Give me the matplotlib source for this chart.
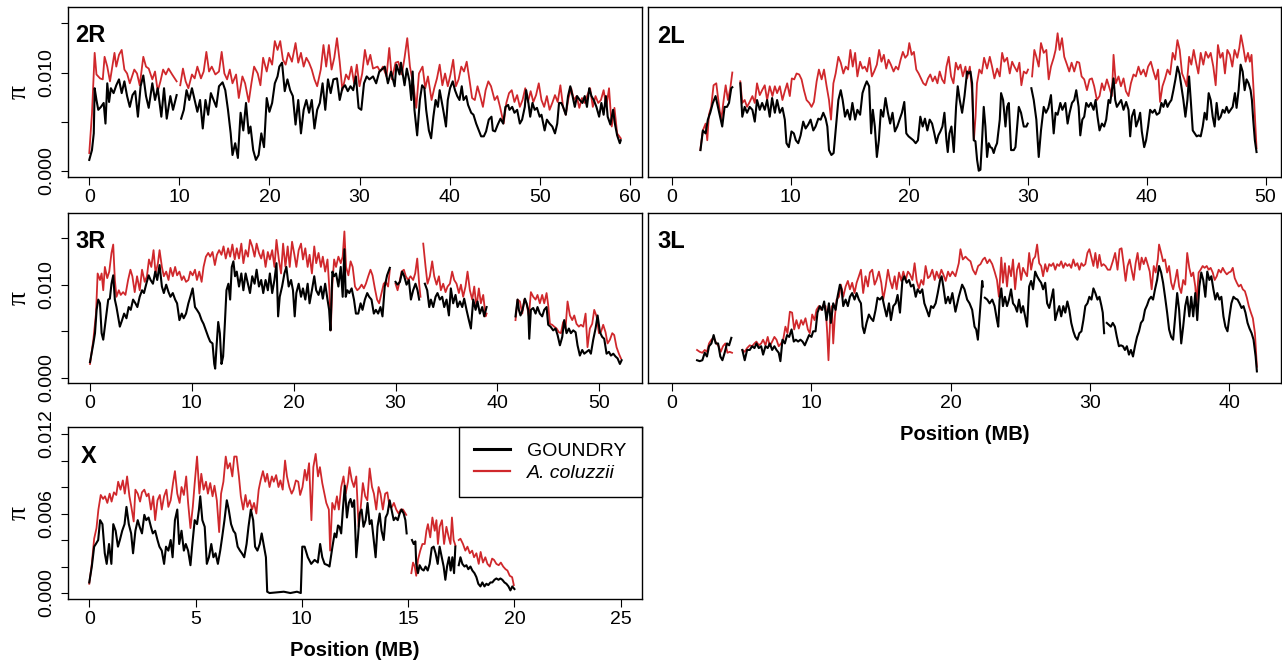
import numpy as np
import matplotlib
matplotlib.use("Agg")
import matplotlib.pyplot as plt
from matplotlib.lines import Line2D

nan = np.nan

# nucleotide diversity, values in units of 1e-3, (position MB, pi) pairs
# 2R ==========================================================================
red_2R = [(0,1.8),(0.3,5.8),(0.6,12.0),(0.8,9.8),(1.2,9.4),(1.5,9.3),(1.7,11.6),(2.0,10.6),(2.3,9.1),(2.6,10.8),(2.8,12.0),(3.0,10.6),(3.3,11.8),(3.6,12.3),(3.9,10.3),(4.2,9.9),(4.5,8.9),(5.0,10.3),(5.3,9.9),(5.6,8.7),(6.0,11.6),(6.3,10.6),(6.6,10.4),(7.0,9.3),(7.3,10.1),(7.6,8.1),(7.9,9.1),(8.2,10.3),(8.5,9.8),(8.8,10.4),(9.2,9.8),(9.7,9.1),(10.0,nan),
          (10.1,8.7),(10.4,10.4),(10.7,9.1),(11.0,8.4),(11.4,9.8),(11.7,9.4),(12.0,10.6),(12.4,9.4),(12.7,10.1),(13.0,12.1),(13.3,10.1),(13.6,10.6),(14.0,9.8),(14.4,10.1),(14.7,12.1),(15.0,9.9),(15.3,9.3),(15.6,10.3),(15.9,8.9),(16.3,9.8),(16.6,7.4),(17.0,9.6),(17.3,8.9),(17.7,7.0),(18.0,8.9),(18.3,10.6),(18.7,9.9),(19.0,8.7),(19.3,11.5),(19.7,10.1),
          (20.0,11.5),(20.3,10.8),(20.6,13.2),(20.9,12.3),(21.2,13.2),(21.5,11.3),(21.8,10.8),(22.1,12.0),(22.5,11.1),(22.9,13.0),(23.2,11.0),(23.5,12.0),(23.8,10.6),(24.1,11.5),(24.4,11.0),(24.7,10.3),(25.0,9.3),(25.3,8.6),(25.7,10.3),(26.0,12.8),(26.3,10.6),(26.6,12.8),(26.9,10.3),(27.2,11.5),(27.5,13.5),(27.8,11.1),(28.1,8.2),(28.5,9.8),(28.8,9.3),(29.1,10.6),(29.4,8.9),(29.7,10.8),
          (30.0,8.6),(30.3,9.9),(30.6,12.3),(30.9,10.8),(31.2,11.8),(31.5,10.4),(32.0,10.6),(32.3,10.1),(32.6,10.6),(33.0,9.6),(33.3,12.5),(33.6,9.3),(34.0,11.0),(34.3,11.1),(34.7,9.8),(35.0,11.5),(35.3,13.5),(35.6,10.6),(36.0,8.6),(36.3,6.4),(36.6,9.9),(37.0,10.6),(37.3,8.4),(37.6,9.6),(38.0,7.2),(38.3,8.4),(38.6,9.4),(38.9,10.8),(39.2,8.7),(39.5,9.9),(39.8,8.6),
          (40.1,9.8),(40.4,11.3),(40.7,8.6),(41.0,9.3),(41.3,10.6),(41.6,10.1),(41.9,11.1),(42.2,9.3),(42.5,7.4),(42.8,7.2),(43.1,8.6),(43.4,7.6),(43.7,6.5),(44.0,8.2),(44.3,9.1),(44.6,8.6),(45.0,7.2),(45.3,7.6),(45.6,6.5),(46.0,4.8),(46.3,6.9),(46.6,7.9),(46.9,8.2),(47.2,7.0),(47.5,7.7),(47.8,6.5),(48.1,7.2),(48.4,8.4),(48.7,7.0),(49.0,8.1),(49.3,7.0),(49.6,7.7),(49.9,8.9),
          (50.2,7.2),(50.5,6.5),(50.8,7.6),(51.1,6.2),(51.4,6.9),(51.7,7.7),(52.0,7.0),(52.3,8.7),(52.6,6.5),(52.9,5.7),(53.2,7.4),(53.5,8.4),(53.8,7.2),(54.1,7.6),(54.4,6.4),(54.7,7.4),(55.0,6.9),(55.3,7.7),(55.6,8.4),(55.9,6.5),(56.2,7.6),(56.5,6.9),(56.8,7.2),(57.1,8.2),(57.4,6.5),(57.7,8.4),(58.0,4.5),(58.3,6.4),(58.6,3.8),(59.0,3.3)]

black_2R = [(0,1.1),(0.3,2.1),(0.5,3.8),(0.6,8.4),(0.8,7.2),(1.0,6.2),(1.3,6.5),(1.6,6.9),(1.8,4.8),(2.0,8.9),(2.2,7.0),(2.4,8.4),(2.7,7.9),(3.0,8.7),(3.3,9.3),(3.6,7.9),(3.9,9.1),(4.2,7.6),(4.5,6.5),(4.8,7.7),(5.1,8.1),(5.4,5.5),(5.7,8.6),(6.0,9.7),(6.3,7.6),(6.6,6.4),(7.0,8.9),(7.3,7.2),(7.6,8.4),(8.0,5.5),(8.3,8.4),(8.6,5.3),(9.0,7.6),(9.3,6.2),(9.7,7.7),(10.0,nan),
            (10.2,5.3),(10.5,6.2),(10.8,8.2),(11.1,7.2),(11.4,8.4),(11.7,7.2),(12.0,6.0),(12.3,7.2),(12.6,4.3),(12.9,7.2),(13.2,5.7),(13.5,7.9),(13.8,7.2),(14.1,6.5),(14.4,8.6),(14.8,9.0),(15.1,8.2),(15.4,6.2),(15.7,3.8),(15.9,1.6),(16.2,2.8),(16.5,1.3),(16.8,5.9),(17.1,4.1),(17.4,6.9),(17.7,3.8),(17.9,4.5),(18.2,2.1),(18.5,1.1),(18.8,1.6),(19.1,3.8),(19.4,2.4),(19.7,7.4),
            (20.0,6.0),(20.3,6.9),(20.6,8.9),(20.9,9.6),(21.1,10.6),(21.4,11.0),(21.7,8.1),(22.0,9.3),(22.3,8.2),(22.6,7.6),(22.9,4.7),(23.2,7.2),(23.5,3.8),(23.8,6.2),(24.1,7.2),(24.4,5.9),(24.7,7.2),(25.0,4.3),(25.3,6.2),(25.6,6.9),(25.9,8.9),(26.2,6.2),(26.5,9.3),(26.8,7.9),(27.1,9.3),(27.5,9.4),(27.8,7.2),(28.1,8.4),(28.4,8.7),(28.7,8.1),(29.0,8.6),(29.3,8.2),(29.6,9.6),(29.9,6.4),
            (30.2,6.2),(30.5,8.9),(30.8,9.6),(31.1,9.3),(31.5,9.6),(31.85,8.9),(32.2,10.1),(32.6,10.4),(32.8,10.6),(33.15,8.9),(33.5,10.1),(33.9,8.6),(34.1,10.8),(34.45,9.8),(34.6,11.0),(35.0,8.7),(35.25,10.4),(35.55,9.1),(35.75,7.2),(35.9,10.1),(36.1,6.2),(36.4,3.6),(36.7,7.2),(36.95,8.7),(37.2,8.4),(37.4,6.2),(37.7,4.1),(37.95,3.3),(38.2,5.5),(38.45,7.2),(38.7,6.5),(38.9,8.2),(39.1,7.2),(39.35,5.9),(39.6,4.5),(39.8,7.2),
            (40.05,8.4),(40.35,9.1),(40.6,8.2),(40.85,7.6),(41.1,7.2),(41.35,8.6),(41.55,7.2),(41.85,7.6),(42.05,6.7),(42.4,5.9),(42.65,5.7),(42.95,4.8),(43.25,4.1),(43.5,3.5),(43.8,3.5),(44.05,4.0),(44.35,5.2),(44.65,5.5),(44.8,4.1),(45.05,4.0),(45.35,4.7),(45.65,5.3),(45.95,4.8),(46.2,6.5),(46.5,6.7),(46.65,6.2),(46.95,6.5),(47.2,5.9),(47.5,6.2),(47.8,4.8),(48.05,5.2),(48.35,6.5),(48.5,8.2),(48.75,6.9),(48.95,5.5),(49.2,6.9),(49.45,6.2),(49.7,6.4),
            (50.0,5.5),(50.2,5.7),(50.55,4.1),(50.8,5.2),(51.1,4.8),(51.4,4.5),(51.7,3.8),(51.95,4.8),(52.15,6.9),(52.4,6.9),(52.6,6.5),(52.9,5.7),(53.15,7.6),(53.4,8.6),(53.65,7.6),(53.9,6.5),(54.15,7.6),(54.45,7.2),(54.75,6.9),(55.0,7.6),(55.25,6.5),(55.5,8.4),(55.75,7.6),(56.0,7.2),(56.3,6.5),(56.6,5.5),(56.85,6.9),(57.1,5.7),(57.35,7.6),(57.55,5.5),(57.85,4.7),(58.15,6.2),(58.35,4.8),(58.6,3.6),(58.9,2.8),(59.0,3.1)]

# 2L ==========================================================================
red_2L = [(2.4,2.1),(2.62,4.1),(2.85,4.8),(2.99,3.1),(3.13,5.7),(3.32,6.5),(3.52,8.7),(3.75,8.9),(3.89,7.5),(4.03,6.2),(4.17,5.2),(4.37,7.2),(4.54,8.7),(4.73,7.2),(4.93,8.4),(5.1,10.0),(5.4,nan),
          (5.77,9.1),(5.94,6.9),(6.14,7.2),(6.34,6.5),(6.56,7.0),(6.79,7.6),(6.99,6.9),(7.18,8.9),(7.41,7.7),(7.61,8.2),(7.83,8.7),(8.03,7.2),(8.25,8.6),(8.48,7.6),(8.68,8.6),(8.87,7.9),(9.1,8.6),(9.32,7.2),(9.52,8.1),(9.72,8.9),(9.94,7.6),
          (10.11,9.4),(10.31,9.3),(10.51,9.9),(10.73,9.8),(10.93,9.3),(11.13,8.2),(11.35,7.2),(11.58,6.9),(11.77,6.5),(11.97,7.0),(12.2,9.1),(12.39,10.3),(12.62,9.3),(12.82,10.3),(13.04,8.6),(13.24,7.2),(13.41,5.2),(13.61,8.9),(13.8,9.9),(14.03,11.6),(14.23,11.0),(14.45,9.9),(14.65,10.6),(14.85,10.3),
          (15.04,12.3),(15.24,10.6),(15.44,12.0),(15.63,9.6),(15.86,11.1),(16.06,10.4),(16.25,10.6),(16.45,10.1),(16.65,11.5),(16.85,9.6),(17.04,10.1),(17.27,10.8),(17.46,12.3),(17.66,11.1),(17.86,11.8),(18.06,10.4),(18.25,11.3),(18.45,10.8),(18.68,10.1),(18.87,10.6),(19.07,10.3),(19.27,11.3),(19.46,12.1),(19.66,11.5),(19.86,11.8),
          (20.0,13.0),(20.2,11.8),(20.39,12.1),(20.59,10.3),(20.79,9.9),(20.99,9.4),(21.18,8.9),(21.38,8.7),(21.58,9.4),(21.77,9.8),(21.97,9.1),(22.17,9.6),(22.37,8.9),(22.56,10.1),(22.76,9.3),(22.96,8.9),(23.13,10.6),(23.32,11.6),(23.52,9.6),(23.72,8.9),(23.92,11.0),(24.11,10.3),(24.31,10.8),(24.51,9.6),(24.73,10.6),
          (24.87,9.4),(25.1,10.6),(25.3,7.9),(25.44,3.1),(25.58,5.5),(25.7,8.9),(25.9,10.3),(26.1,9.9),(26.3,11.5),(26.55,10.4),(26.78,11.6),(26.97,10.6),(27.17,9.4),(27.4,10.4),(27.62,9.6),(27.82,12.0),(28.0,11.1),(28.24,11.5),(28.46,9.9),(28.66,11.1),(28.85,10.6),(29.08,10.1),(29.27,11.0),(29.44,8.7),(29.64,10.1),(29.86,9.9),(30.0,10.3),(30.15,nan),
          (30.34,9.6),(30.53,12.3),(30.7,11.6),(30.9,10.6),(31.09,13.0),(31.32,12.0),(31.54,12.3),(31.74,9.3),(31.93,10.6),(32.16,11.5),(32.32,12.3),(32.49,14.0),(32.66,12.3),(32.86,13.5),(33.05,11.6),(33.28,10.8),(33.47,10.1),(33.67,11.0),(33.89,10.1),(34.12,11.1),(34.31,11.0),(34.51,9.6),(34.73,9.3),(34.96,8.2),
          (35.18,9.3),(35.38,9.4),(35.57,8.6),(35.8,7.2),(36.02,7.6),(36.22,8.9),(36.41,8.2),(36.64,9.3),(36.86,8.4),(37.06,7.6),(37.2,11.8),(37.39,8.9),(37.62,9.6),(37.82,8.6),(38.04,9.4),(38.24,8.1),(38.46,7.6),(38.66,8.9),(38.88,9.8),(39.08,9.6),(39.3,10.6),(39.5,9.8),(39.72,10.3),(39.92,9.6),
          (40.11,10.6),(40.34,11.1),(40.56,10.1),(40.76,9.3),(40.95,10.3),(41.12,7.0),(41.32,8.6),(41.54,9.4),(41.74,10.3),(41.96,9.8),(42.18,12.0),(42.38,11.3),(42.58,13.3),(42.77,12.3),(42.97,9.9),(43.17,9.3),(43.36,8.6),(43.56,11.6),(43.75,10.8),(43.95,12.3),(44.15,11.0),(44.34,9.9),(44.54,12.0),(44.76,10.8),(44.96,12.1),
          (45.18,11.5),(45.38,12.0),(45.6,10.6),(45.8,8.7),(45.99,12.8),(46.19,11.5),(46.39,12.0),(46.58,9.9),(46.78,12.3),(47.0,11.8),(47.2,10.6),(47.39,12.3),(47.62,11.5),(47.79,12.5),(47.93,13.8),(48.12,12.6),(48.32,11.1),(48.52,12.0),(48.68,11.1),(48.82,11.8),(48.96,8.9),(49.1,5.5),(49.24,2.3)]

black_2L = [(2.42,2.1),(2.62,4.1),(2.85,3.8),(3.04,5.2),(3.24,5.9),(3.46,6.9),(3.69,7.6),(3.89,6.5),(4.08,5.5),(4.25,4.5),(4.45,6.5),(4.65,6.5),(4.82,6.9),(5.01,8.4),(5.1,8.5),(5.4,nan),
            (5.77,8.9),(5.94,5.5),(6.14,6.5),(6.34,5.9),(6.56,6.5),(6.79,6.2),(6.99,5.0),(7.18,7.2),(7.41,6.2),(7.61,6.9),(7.83,6.2),(8.03,7.2),(8.25,5.5),(8.45,7.4),(8.68,5.9),(8.87,7.2),(9.1,5.9),(9.32,6.4),(9.52,5.2),(9.66,2.8),(9.86,2.4),
            (10.08,4.0),(10.28,3.8),(10.45,3.1),(10.65,2.8),(10.85,3.6),(11.07,5.0),(11.27,4.3),(11.49,4.7),(11.69,5.2),(11.92,4.1),(12.11,4.5),(12.34,5.3),(12.54,5.2),(12.76,5.9),(12.96,5.3),(13.1,4.5),(13.24,2.1),(13.44,1.6),(13.63,1.8),(13.83,4.5),(14.03,7.2),(14.23,8.2),(14.39,7.2),(14.59,5.5),(14.79,6.2),
            (15.01,5.2),(15.21,6.9),(15.44,5.2),(15.63,6.2),(15.86,5.7),(16.06,7.9),(16.25,8.6),(16.42,9.1),(16.62,8.6),(16.79,3.8),(16.93,6.2),(17.1,4.5),(17.27,1.4),(17.44,3.1),(17.61,6.2),(17.8,5.5),(18.0,7.4),(18.2,5.9),(18.39,4.8),(18.59,5.9),(18.79,4.0),(18.99,4.5),(19.18,5.2),(19.38,5.9),(19.58,7.0),(19.75,3.8),(19.94,3.5),
            (20.14,3.3),(20.34,3.1),(20.54,2.8),(20.73,3.1),(20.93,5.5),(21.13,4.5),(21.32,5.3),(21.52,4.1),(21.72,5.2),(21.92,4.8),(22.11,3.8),(22.28,2.8),(22.45,3.6),(22.62,4.0),(22.79,4.5),(22.96,5.9),(23.13,3.1),(23.24,1.9),(23.38,3.8),(23.55,4.5),(23.75,1.9),(23.94,6.5),(24.08,8.6),
            (24.25,7.2),(24.45,5.9),(24.65,7.6),(24.87,10.1),(25.01,9.9),(25.15,10.1),(25.29,8.9),(25.43,3.1),(25.57,3.0),(25.71,1.1),(25.85,0.0),(25.99,0.1),(26.13,3.1),(26.27,6.5),(26.41,4.5),(26.55,1.4),(26.69,2.8),(26.83,2.4),(26.97,2.3),(27.11,1.8),(27.25,2.4),(27.39,2.8),(27.62,5.2),(27.73,7.9),(27.9,7.2),
            (28.1,4.5),(28.24,6.5),(28.38,6.9),(28.57,2.1),(28.8,2.1),(28.94,2.4),(29.22,6.5),(29.41,5.9),(29.64,4.5),(29.86,4.5),(29.97,4.8),(30.1,nan),
            (30.28,8.4),(30.48,7.2),(30.7,5.2),(30.9,1.4),(31.09,4.1),(31.32,6.5),(31.51,5.9),(31.71,6.4),(31.93,7.7),(32.16,3.8),(32.32,5.9),(32.49,5.7),(32.72,6.9),(32.89,6.2),(33.14,6.9),(33.33,4.8),(33.5,5.9),(33.7,6.9),(33.89,7.2),(34.06,8.2),(34.26,6.5),(34.4,3.6),(34.57,5.2),(34.73,5.5),(34.9,6.9),
            (35.1,6.5),(35.29,6.9),(35.52,6.2),(35.69,7.2),(35.85,5.5),(36.02,4.1),(36.22,4.8),(36.41,4.5),(36.58,5.2),(36.78,7.2),(36.92,6.9),(37.06,8.2),(37.2,9.4),(37.34,7.2),(37.48,6.5),(37.68,6.9),(37.84,7.2),(38.04,6.2),(38.26,7.0),(38.46,6.2),(38.6,3.5),(38.74,5.5),(38.94,6.2),(39.1,4.5),(39.3,5.2),(39.44,5.9),(39.58,4.0),(39.78,2.4),(39.94,3.1),
            (40.11,4.5),(40.28,6.2),(40.48,5.9),(40.67,6.2),(40.84,5.7),(41.06,5.9),(41.23,6.9),(41.4,6.5),(41.57,7.2),(41.74,6.5),(41.9,6.9),(42.07,7.2),(42.24,8.2),(42.41,9.3),(42.58,10.6),(42.75,9.9),(42.91,8.6),(43.08,7.2),(43.25,5.5),(43.42,7.2),(43.56,9.6),(43.7,7.2),(43.87,4.1),(44.03,3.8),(44.2,3.5),(44.37,3.6),(44.54,3.5),(44.71,4.5),(44.87,5.9),
            (45.04,5.2),(45.21,7.9),(45.38,7.2),(45.55,5.5),(45.71,4.5),(45.88,6.9),(46.05,5.2),(46.22,5.5),(46.39,6.2),(46.55,5.9),(46.72,6.5),(46.89,5.9),(47.06,6.2),(47.23,6.5),(47.42,7.9),(47.56,6.4),(47.73,8.2),(47.9,10.8),(48.07,10.1),(48.24,8.2),(48.4,9.3),(48.57,8.9),(48.74,8.2),(48.85,7.2),(48.96,5.2),(49.1,3.1),(49.24,1.9)]

# 3R ==========================================================================
red_3R = [(0,1.5),(0.33,4.1),(0.59,6.9),(0.75,11.2),(0.98,10.5),(1.14,11.2),(1.3,9.4),(1.46,11.9),(1.69,10.7),(1.89,11.4),(2.11,13.4),(2.28,14.3),(2.44,10.5),(2.6,8.7),(2.83,9.4),(3.02,8.9),(3.25,9.2),(3.48,8.9),(3.74,10.5),(3.97,11.6),(4.16,10.9),(4.39,9.2),(4.62,10.9),(4.88,9.4),
          (5.11,11.6),(5.37,10.3),(5.59,10.9),(5.79,12.7),(6.02,11.9),(6.24,13.7),(6.44,11.2),(6.67,12.3),(6.83,13.7),(7.06,11.9),(7.25,10.9),(7.48,11.4),(7.71,10.5),(7.9,11.8),(8.13,10.9),(8.36,11.9),(8.55,11.0),(8.78,11.4),(9.01,10.5),(9.2,10.9),(9.43,10.3),(9.66,10.5),(9.85,11.4),
          (10.08,11.0),(10.31,11.6),(10.5,10.5),(10.73,11.4),(10.96,10.3),(11.15,11.9),(11.38,13.0),(11.61,13.4),(11.8,13.0),(12.03,13.5),(12.26,12.1),(12.46,13.2),(12.68,13.7),(12.91,13.2),(13.11,14.1),(13.33,12.8),(13.56,13.9),(13.76,13.0),(13.98,14.3),(14.21,12.7),(14.41,13.9),(14.63,12.8),(14.86,14.4),
          (15.06,12.3),(15.28,13.7),(15.51,13.0),(15.71,14.8),(15.93,14.1),(16.16,13.0),(16.36,14.4),(16.59,13.4),(16.81,12.8),(17.01,13.7),(17.24,11.9),(17.46,13.5),(17.66,12.7),(17.89,13.7),(18.11,11.9),(18.31,14.8),(18.54,12.7),(18.76,11.2),(18.96,14.4),(19.19,11.9),(19.41,14.1),(19.61,11.9),(19.84,14.6),
          (20.07,13.2),(20.26,11.9),(20.49,13.7),(20.72,14.4),(20.91,12.7),(21.14,13.9),(21.37,11.9),(21.56,13.2),(21.79,11.2),(22.02,14.1),(22.21,12.3),(22.44,13.4),(22.67,11.9),(22.86,13.0),(23.09,11.4),(23.32,12.7),(23.51,9.4),(23.64,5.1),(23.8,10.1),(23.97,12.7),(24.16,11.9),(24.39,13.0),(24.62,12.3),(24.81,13.0),
          (24.98,15.7),(25.14,11.9),(25.37,11.0),(25.59,12.5),(25.79,11.9),(26.02,9.8),(26.24,9.4),(26.44,9.6),(26.67,10.0),(26.89,9.6),(27.09,10.1),(27.32,10.9),(27.54,11.6),(27.74,11.0),(27.97,9.6),(28.19,8.4),(28.39,8.0),(28.62,9.1),(28.84,10.1),(29.04,10.3),(29.27,9.8),(29.44,11.6),(29.7,nan),
          (30.0,10.1),(30.2,9.4),(30.43,10.5),(30.59,11.4),(30.82,11.6),(31.01,10.9),(31.24,10.5),(31.47,10.9),(31.73,10.5),(31.93,11.2),(32.13,12.8),(32.32,10.1),(32.45,8.7),(32.6,nan),
          (32.72,14.4),(32.95,11.9),(33.14,10.1),(33.37,10.9),(33.6,12.5),(33.8,10.9),(34.03,10.0),(34.26,10.9),(34.45,9.4),(34.68,10.1),(34.91,9.2),(35.11,9.8),(35.34,10.1),(35.56,11.4),(35.76,10.5),(35.99,10.1),(36.22,9.1),(36.42,10.0),(36.64,8.7),(36.87,9.8),(37.07,11.4),(37.3,9.4),(37.53,8.4),(37.73,9.8),(37.95,7.6),(38.18,9.6),(38.38,8.0),(38.61,8.9),(38.84,6.6),(38.94,6.9),(40.5,nan),
          (41.78,6.2),(41.98,8.4),(42.21,8.2),(42.44,6.9),(42.64,8.4),(42.86,8.0),(43.09,6.6),(43.29,9.2),(43.52,8.7),(43.75,8.4),(43.94,8.9),(44.17,8.0),(44.4,8.9),(44.6,8.0),(44.83,9.1),(44.99,7.8),(45.16,5.8),(45.38,5.7),(45.58,5.5),(45.81,5.3),(46.04,4.9),(46.24,4.8),(46.46,6.0),(46.69,5.3),(46.89,8.2),
          (47.12,6.7),(47.35,6.2),(47.55,6.7),(47.77,5.8),(48.0,5.5),(48.2,5.7),(48.43,5.5),(48.66,6.9),(48.85,3.3),(49.08,5.3),(49.31,5.8),(49.51,7.3),(49.74,6.6),(49.97,4.8),(50.16,4.9),(50.39,5.7),(50.62,4.9),(50.82,3.7),(51.05,4.1),(51.28,4.8),(51.47,4.6),(51.7,3.3),(51.93,2.6),(52.13,2.1)]

black_3R = [(0,1.7),(0.33,3.7),(0.49,4.8),(0.65,7.3),(0.81,8.4),(0.98,8.0),(1.14,4.8),(1.3,4.1),(1.46,5.5),(1.63,6.9),(1.79,8.4),(1.95,8.5),(2.11,10.1),(2.28,11.0),(2.44,8.4),(2.6,7.6),(2.76,6.6),(2.93,5.5),(3.15,6.2),(3.35,6.9),(3.58,6.4),(3.8,7.6),(4.0,7.3),(4.23,8.4),(4.46,8.0),(4.65,7.6),(4.88,8.7),
            (5.11,9.4),(5.3,9.1),(5.53,10.1),(5.76,11.0),(5.95,10.5),(6.18,10.1),(6.41,11.4),(6.6,10.5),(6.83,12.1),(7.06,9.8),(7.25,9.1),(7.48,10.0),(7.71,9.2),(7.9,8.7),(8.13,9.1),(8.36,8.4),(8.55,8.0),(8.78,6.2),(9.01,6.9),(9.2,6.4),(9.43,6.9),(9.66,8.0),(9.85,8.7),
            (10.08,9.6),(10.31,7.6),(10.5,7.3),(10.73,6.9),(10.96,6.2),(11.15,5.8),(11.38,5.1),(11.61,4.4),(11.8,3.9),(12.03,3.7),(12.2,1.5),(12.29,1.0),(12.42,3.3),(12.59,6.0),(12.75,4.8),(12.91,1.5),(13.07,2.3),(13.24,5.8),(13.4,9.4),(13.59,10.1),(13.76,8.4),(13.92,11.9),(14.08,12.5),(14.24,10.9),(14.41,11.4),(14.63,9.8),(14.86,11.2),
            (15.06,9.4),(15.28,11.2),(15.51,10.1),(15.71,9.1),(15.93,10.9),(16.16,10.1),(16.36,11.6),(16.59,9.8),(16.81,10.5),(17.01,9.1),(17.24,10.5),(17.46,9.4),(17.66,11.2),(17.89,9.1),(18.11,10.5),(18.31,12.3),(18.47,6.6),(18.63,8.7),(18.86,9.8),(19.09,11.2),(19.28,11.9),(19.51,9.8),(19.74,10.5),(19.93,9.4),
            (20.1,6.6),(20.26,9.1),(20.49,10.1),(20.72,8.7),(20.91,9.6),(21.14,8.4),(21.37,10.1),(21.56,8.0),(21.79,9.4),(22.02,10.9),(22.21,9.4),(22.44,8.9),(22.67,9.8),(22.86,8.5),(23.09,10.1),(23.32,8.4),(23.48,7.3),(23.61,5.1),(23.8,11.4),(23.97,10.9),(24.16,11.2),(24.39,9.8),(24.62,11.9),(24.81,8.7),
            (24.98,13.8),(25.11,8.7),(25.27,9.4),(25.46,9.1),(25.69,9.6),(25.92,8.4),(26.11,6.9),(26.34,6.9),(26.57,8.0),(26.76,7.3),(26.99,8.4),(27.22,9.1),(27.41,8.7),(27.64,8.4),(27.87,6.9),(28.07,7.3),(28.29,6.9),(28.52,7.6),(28.72,6.6),(28.94,9.8),(29.17,11.0),(29.44,11.8),(29.7,nan),
            (30.0,10.3),(30.2,10.0),(30.43,10.3),(30.65,11.4),(30.85,10.9),(31.08,10.0),(31.31,10.5),(31.51,8.4),(31.73,9.4),(31.96,10.1),(32.16,9.4),(32.32,8.4),(32.6,nan),
            (32.88,10.1),(33.11,9.4),(33.31,7.6),(33.47,8.4),(33.7,7.6),(33.93,8.7),(34.12,9.1),(34.35,8.4),(34.58,8.7),(34.78,7.6),(35.01,8.4),(35.24,6.7),(35.43,9.6),(35.66,8.0),(35.89,8.9),(36.09,7.6),(36.32,8.2),(36.55,7.6),(36.74,8.5),(36.97,7.3),(37.2,6.2),(37.4,5.3),(37.63,8.4),(37.86,7.3),(38.05,8.2),(38.28,6.9),(38.51,7.6),(38.71,6.6),(38.94,7.6),(40.5,nan),
            (41.78,6.6),(41.98,8.4),(42.11,7.3),(42.27,6.7),(42.47,7.3),(42.7,8.5),(42.86,8.0),(43.03,7.3),(43.13,4.2),(43.29,7.3),(43.52,7.5),(43.75,6.9),(43.94,7.6),(44.17,6.9),(44.4,6.6),(44.6,7.3),(44.83,7.6),(44.99,5.7),(45.22,5.5),(45.48,5.1),(45.71,5.3),(45.91,4.6),(46.14,3.5),(46.37,4.4),(46.56,6.2),(46.79,4.8),
            (47.02,5.3),(47.22,4.8),(47.45,5.1),(47.68,4.9),(47.87,3.5),(48.1,2.4),(48.33,3.0),(48.53,2.6),(48.76,2.8),(48.99,3.0),(49.18,2.6),(49.41,4.1),(49.64,5.3),(49.84,6.7),(50.07,4.9),(50.29,4.4),(50.49,4.2),(50.72,2.6),(50.95,2.8),(51.15,2.4),(51.38,2.6),(51.6,2.3),(51.8,2.1),(52.03,1.5),(52.2,1.9)]

# 3L ==========================================================================
red_3L = [(1.8,3.0),(1.99,2.8),(2.18,2.7),(2.35,3.0),(2.51,2.8),(2.66,3.7),(2.83,4.1),(2.99,4.3),(3.19,3.7),(3.35,3.4),(3.5,2.8),(3.66,3.4),(3.83,3.7),(3.98,2.7),(4.14,2.8),(4.31,2.7),(4.7,nan),
          (5.05,3.0),(5.22,2.8),(5.39,3.2),(5.58,3.5),(5.75,3.4),(5.92,3.7),(6.06,3.9),(6.23,3.5),(6.4,3.7),(6.54,4.1),(6.71,3.5),(6.87,4.4),(7.02,3.4),(7.19,3.9),(7.35,4.4),(7.5,4.1),(7.66,3.4),(7.83,3.7),(7.98,4.1),(8.14,5.5),(8.29,4.8),(8.46,7.1),(8.62,7.0),(8.77,5.2),(8.93,6.2),(9.1,5.3),(9.27,6.2),(9.41,5.7),(9.58,6.4),(9.75,5.2),(9.89,4.8),
          (10.06,6.8),(10.23,6.2),(10.37,7.3),(10.54,7.7),(10.71,7.3),(10.85,7.8),(11.02,7.7),(11.14,4.8),(11.23,1.9),(11.35,6.2),(11.47,7.7),(11.57,3.7),(11.69,6.6),(11.81,8.4),(11.98,8.7),(12.12,10.0),(12.29,8.7),(12.46,9.8),(12.62,10.4),(12.77,9.5),(12.93,10.2),(13.1,9.1),(13.25,10.2),(13.41,10.9),(13.56,11.6),(13.72,9.1),(13.89,10.9),
          (14.06,9.8),(14.2,11.3),(14.37,11.6),(14.54,10.0),(14.68,10.5),(14.85,11.4),(15.02,10.2),(15.16,8.4),(15.33,9.8),(15.5,11.6),(15.64,10.5),(15.81,9.6),(15.98,10.9),(16.12,9.5),(16.29,11.3),(16.46,10.4),(16.6,11.4),(16.77,10.5),(16.93,11.4),(17.08,11.1),(17.25,10.5),(17.41,12.3),(17.56,10.4),(17.72,9.6),(17.89,10.5),
          (18.04,10.0),(18.2,12.0),(18.37,10.7),(18.51,10.9),(18.68,11.6),(18.85,10.5),(18.99,11.4),(19.16,10.7),(19.33,11.6),(19.47,11.1),(19.64,10.4),(19.81,11.4),(19.95,10.9),(20.12,11.4),(20.34,10.9),(20.58,12.3),(20.7,13.8),(20.87,12.7),(21.06,13.0),(21.25,12.7),(21.42,12.5),(21.59,11.6),(21.78,11.1),(21.97,12.0),
          (22.14,12.2),(22.31,12.7),(22.45,12.9),(22.62,12.3),(22.79,12.7),(22.98,12.2),(23.15,11.4),(23.32,10.5),(23.46,8.7),(23.63,12.9),(23.75,10.2),(23.89,12.3),(24.04,9.8),(24.18,12.0),(24.33,10.9),(24.47,12.7),(24.62,9.5),(24.76,11.6),(24.9,12.3),(25.05,10.5),(25.19,11.8),(25.34,11.3),(25.48,10.9),(25.63,13.4),(25.77,11.6),(25.91,12.7),
          (26.06,13.0),(26.2,14.3),(26.35,12.3),(26.49,12.0),(26.63,10.9),(26.78,12.2),(26.92,11.4),(27.07,12.2),(27.21,12.0),(27.36,12.3),(27.5,11.6),(27.64,12.2),(27.79,12.0),(27.93,12.5),(28.08,11.8),(28.22,12.3),(28.37,12.0),(28.51,12.2),(28.65,11.8),(28.8,12.7),(28.94,12.0),(29.09,12.3),(29.23,11.6),(29.38,12.3),(29.52,12.0),(29.66,12.2),(29.81,13.4),(29.95,13.8),
          (30.1,12.9),(30.24,12.0),(30.38,13.4),(30.53,11.8),(30.67,13.2),(30.82,12.0),(30.96,12.2),(31.11,12.0),(31.27,11.6),(31.44,11.6),(31.63,12.5),(31.8,13.4),(31.97,11.6),(32.12,13.8),(32.26,13.9),(32.4,12.3),(32.55,10.4),(32.69,12.0),(32.84,12.7),(32.98,11.6),(33.13,10.5),(33.27,12.3),(33.41,13.4),(33.56,11.6),(33.7,12.9),(33.85,12.2),(33.99,12.9),
          (34.13,12.2),(34.28,11.4),(34.42,9.5),(34.57,12.0),(34.71,11.3),(34.86,12.7),(34.95,14.3),(35.1,13.4),(35.24,12.5),(35.38,12.7),(35.53,11.3),(35.67,12.0),(35.82,10.2),(35.96,9.5),(36.11,10.5),(36.25,11.6),(36.39,9.8),(36.54,9.1),(36.68,10.5),(36.83,10.0),(36.97,13.4),(37.12,11.8),(37.26,10.9),(37.4,11.3),(37.55,9.8),(37.64,8.0),(37.79,11.3),(37.93,11.6),
          (38.08,12.0),(38.22,11.8),(38.37,12.0),(38.51,11.6),(38.65,11.8),(38.8,11.3),(38.94,10.5),(39.09,10.9),(39.23,11.6),(39.38,11.3),(39.52,11.8),(39.66,11.4),(39.81,11.1),(39.95,11.3),(40.1,11.4),(40.24,11.8),(40.38,10.7),(40.53,10.2),(40.67,9.8),(40.82,10.0),(40.96,9.5),(41.11,9.3),(41.25,8.6),(41.39,7.7),(41.54,7.0),(41.68,6.4),(41.83,4.8),(41.97,1.2)]

black_3L = [(1.8,1.9),(1.99,1.8),(2.18,1.9),(2.35,2.7),(2.51,2.3),(2.66,3.4),(2.83,3.7),(2.99,4.6),(3.14,3.7),(3.31,3.7),(3.47,2.3),(3.62,1.9),(3.78,2.7),(3.95,3.7),(4.1,3.5),(4.26,4.3),(4.7,nan),
            (5.05,3.0),(5.22,1.9),(5.39,3.0),(5.58,3.0),(5.75,3.4),(5.92,3.2),(6.06,3.7),(6.23,3.2),(6.4,3.4),(6.54,2.5),(6.71,3.4),(6.87,3.2),(7.02,3.7),(7.19,3.0),(7.35,3.4),(7.5,3.0),(7.66,2.7),(7.78,1.8),(7.93,4.1),(8.1,3.7),(8.26,4.6),(8.41,4.4),(8.58,5.2),(8.74,3.9),(8.89,4.1),(9.05,3.9),(9.22,4.1),(9.37,3.9),(9.53,3.5),(9.7,4.1),(9.84,4.6),
            (10.01,4.4),(10.13,5.0),(10.3,5.0),(10.44,7.0),(10.61,7.7),(10.78,7.3),(10.92,8.2),(11.09,6.2),(11.26,8.0),(11.4,5.9),(11.57,8.0),(11.74,7.3),(11.88,8.7),(12.05,10.0),(12.17,9.5),(12.29,7.7),(12.46,8.4),(12.62,7.7),(12.77,8.7),(12.93,9.1),(13.1,8.4),(13.25,9.1),(13.41,8.4),(13.56,8.0),(13.68,5.5),(13.8,4.8),(13.96,5.9),
            (14.13,6.8),(14.28,6.4),(14.44,6.1),(14.61,7.3),(14.75,8.6),(14.92,8.4),(15.09,8.7),(15.23,7.7),(15.4,6.6),(15.57,8.0),(15.71,6.2),(15.88,7.7),(16.05,8.0),(16.19,8.9),(16.36,7.0),(16.53,10.4),(16.67,10.9),(16.84,10.2),(17.01,10.5),(17.15,9.8),(17.32,10.0),(17.49,8.7),(17.63,9.5),(17.8,9.1),(17.96,9.5),
            (18.11,8.0),(18.28,7.3),(18.44,6.6),(18.59,7.7),(18.75,7.5),(18.92,8.0),(19.07,9.1),(19.24,10.5),(19.35,10.9),(19.47,9.8),(19.64,8.0),(19.81,8.7),(19.95,8.0),(20.12,9.1),(20.34,7.1),(20.58,8.7),(20.82,10.0),(20.99,9.5),(21.18,8.4),(21.35,8.0),(21.54,7.3),(21.71,5.5),(21.83,5.2),(21.95,4.1),(22.07,6.6),(22.19,9.1),(22.26,10.4),(22.31,9.8),(22.38,nan),
            (22.45,8.6),(22.62,8.4),(22.79,8.0),(22.98,8.4),(23.15,7.7),(23.32,6.2),(23.41,5.5),(23.51,8.4),(23.63,9.6),(23.75,7.7),(23.89,8.7),(24.04,7.7),(24.18,8.4),(24.33,9.5),(24.47,8.0),(24.62,7.7),(24.76,7.1),(24.9,8.4),(25.05,7.0),(25.19,7.7),(25.34,6.6),(25.48,5.5),(25.63,9.8),(25.77,10.4),(25.91,9.5),
            (26.06,11.4),(26.2,10.9),(26.35,10.5),(26.49,10.2),(26.63,9.5),(26.78,10.2),(26.92,8.0),(27.07,7.5),(27.21,8.4),(27.36,9.5),(27.5,6.2),(27.64,7.0),(27.79,7.7),(27.93,6.6),(28.08,7.7),(28.22,7.0),(28.37,8.2),(28.51,7.3),(28.65,5.9),(28.8,5.0),(28.94,4.4),(29.09,4.1),(29.23,4.8),(29.38,5.0),(29.52,6.2),(29.66,7.7),(29.81,8.0),(29.95,8.7),
            (30.1,8.4),(30.24,9.6),(30.38,9.1),(30.53,8.4),(30.67,8.7),(30.82,7.7),(30.91,7.0),(31.01,4.8),(31.1,nan),
            (31.2,5.9),(31.35,5.7),(31.49,5.5),(31.63,5.9),(31.78,5.5),(31.92,4.4),(32.07,3.4),(32.21,3.5),(32.36,3.4),(32.5,3.0),(32.64,3.4),(32.79,2.5),(32.93,3.0),(33.08,2.3),(33.22,3.4),(33.37,4.4),(33.51,5.0),(33.65,5.9),(33.8,6.2),(33.94,7.3),(34.09,7.8),(34.23,8.4),(34.38,8.7),(34.52,8.4),(34.66,9.5),(34.81,10.5),(34.95,12.0),
            (35.1,11.3),(35.24,10.2),(35.38,8.7),(35.53,7.0),(35.67,5.2),(35.82,4.4),(35.96,4.1),(36.11,6.6),(36.25,9.1),(36.39,7.3),(36.54,3.7),(36.68,5.5),(36.83,7.7),(36.97,8.7),(37.12,6.6),(37.26,8.7),(37.4,6.6),(37.55,9.1),(37.69,6.2),(37.84,9.8),(37.98,11.3),(38.12,10.5),(38.27,8.7),(38.41,11.4),(38.56,10.5),(38.7,10.9),(38.85,9.5),(38.99,8.4),
            (39.13,9.1),(39.28,8.4),(39.42,8.7),(39.57,6.6),(39.71,5.5),(39.86,5.0),(40.0,6.6),(40.14,8.0),(40.29,8.7),(40.43,8.5),(40.58,8.4),(40.72,8.0),(40.87,7.5),(41.01,7.7),(41.15,7.0),(41.3,5.9),(41.44,5.3),(41.59,4.8),(41.73,4.1),(41.88,2.3),(41.97,0.7)]

# X ===========================================================================
red_X = [(0,0.7),(0.12,2.2),(0.23,4.1),(0.34,4.9),(0.43,6.3),(0.54,7.4),(0.65,7.1),(0.74,7.3),(0.85,6.8),(0.96,7.5),(1.05,6.9),(1.16,7.6),(1.27,7.4),(1.36,8.4),(1.47,7.8),(1.58,8.5),(1.67,7.5),(1.78,8.8),(1.89,7.3),(1.98,6.5),(2.09,5.4),(2.17,7.8),(2.28,7.5),(2.39,6.9),(2.48,7.6),(2.59,7.8),(2.7,7.3),(2.79,7.5),(2.9,6.3),
         (3.01,7.3),(3.1,5.5),(3.21,7.0),(3.32,7.4),(3.41,6.3),(3.52,7.3),(3.63,7.8),(3.72,6.5),(3.83,7.0),(3.94,8.3),(4.03,9.2),(4.14,7.5),(4.25,6.8),(4.34,8.0),(4.45,7.4),(4.56,8.8),(4.65,6.8),(4.76,4.9),(4.87,6.5),(4.96,8.3),(5.07,10.3),(5.18,7.5),(5.27,9.0),(5.38,7.8),(5.49,8.4),(5.58,7.5),(5.69,8.3),(5.8,7.3),(5.89,8.1),
         (6.0,7.0),(6.11,4.6),(6.2,7.5),(6.31,8.4),(6.42,10.3),(6.51,9.4),(6.62,9.8),(6.73,8.8),(6.82,10.3),(6.93,10.3),(7.04,8.8),(7.13,7.3),(7.24,6.3),(7.35,7.4),(7.44,6.5),(7.55,7.0),(7.66,6.3),(7.75,6.8),(7.86,6.0),(7.97,7.8),(8.06,8.5),(8.17,9.2),(8.28,8.4),(8.37,9.0),(8.48,8.0),(8.59,8.8),(8.68,8.4),(8.79,8.9),(8.9,8.0),(8.99,8.5),
         (9.1,7.8),(9.21,10.0),(9.3,8.8),(9.41,8.0),(9.52,7.5),(9.61,7.8),(9.72,8.5),(9.83,8.4),(9.92,7.4),(10.03,8.0),(10.14,9.3),(10.23,8.5),(10.34,9.8),(10.45,5.5),(10.54,9.5),(10.65,10.5),(10.76,8.8),(10.85,9.5),(10.96,8.3),(11.15,6.8),(11.27,6.3),(11.33,3.2),(11.43,6.8),(11.54,6.3),(11.65,7.3),(11.74,6.3),(11.85,8.0),(11.96,8.8),
         (12.06,7.5),(12.17,8.4),(12.24,9.5),(12.35,8.5),(12.45,8.0),(12.56,8.8),(12.67,5.0),(12.76,6.3),(12.87,8.3),(12.98,7.3),(13.08,7.0),(13.19,9.4),(13.3,8.0),(13.39,7.5),(13.5,6.3),(13.61,8.0),(13.7,7.5),(13.81,6.3),(13.92,7.5),(14.02,7.6),(14.13,6.5),(14.24,6.5),(14.33,6.8),(14.44,6.3),(14.55,6.0),(14.65,6.3),(14.76,6.3),(14.87,6.0),(14.91,5.9),(15.05,nan),
         (15.15,1.5),(15.23,2.3),(15.31,2.0),(15.38,1.3),(15.46,2.5),(15.57,3.2),(15.67,3.7),(15.78,3.7),(15.86,4.7),(15.93,5.2),(16.04,4.2),(16.14,5.7),(16.25,4.7),(16.33,5.5),(16.4,3.7),(16.48,5.0),(16.59,5.5),(16.69,3.7),(16.8,5.0),(16.91,4.2),(16.99,3.7),(17.06,5.7),(17.14,4.0),(17.22,3.6),(17.3,nan),
         (17.38,4.0),(17.46,4.1),(17.58,3.7),(17.69,3.2),(17.79,3.5),(17.9,3.0),(18.01,3.2),(18.1,2.7),(18.21,3.0),(18.32,2.2),(18.41,3.1),(18.52,2.3),(18.63,2.7),(18.73,2.2),(18.84,2.0),(18.95,2.6),(19.04,2.5),(19.15,2.2),(19.26,2.1),(19.36,2.3),(19.47,2.0),(19.58,1.8),(19.67,1.7),(19.78,1.3),(19.89,1.2),(19.97,0.6)]

black_X = [(0,0.8),(0.12,2.0),(0.23,3.5),(0.31,3.7),(0.42,4.0),(0.51,5.5),(0.62,5.2),(0.73,3.0),(0.82,2.2),(0.93,3.7),(1.04,2.2),(1.13,5.2),(1.24,4.7),(1.35,3.5),(1.44,4.0),(1.55,4.7),(1.66,5.2),(1.75,6.5),(1.86,5.2),(1.97,4.5),(2.06,3.0),(2.17,4.7),(2.28,5.5),(2.37,5.0),(2.48,4.5),(2.59,5.9),(2.68,5.5),(2.79,5.7),(2.9,5.0),(2.99,4.5),
           (3.1,4.7),(3.21,4.0),(3.3,3.5),(3.41,3.2),(3.52,2.2),(3.61,3.5),(3.72,3.2),(3.83,4.0),(3.92,2.7),(4.03,5.5),(4.14,6.3),(4.23,3.7),(4.34,4.7),(4.45,3.2),(4.54,3.7),(4.65,3.2),(4.76,2.1),(4.85,3.7),(4.96,5.5),(5.07,5.2),(5.16,6.3),(5.22,7.3),(5.32,5.5),(5.43,5.0),(5.53,2.2),(5.63,2.7),(5.74,3.7),(5.84,2.7),(5.94,3.0),
           (6.05,2.2),(6.16,3.2),(6.25,4.2),(6.36,5.5),(6.47,7.0),(6.56,6.3),(6.67,5.2),(6.78,4.7),(6.87,4.5),(6.98,3.5),(7.09,3.2),(7.18,3.0),(7.29,2.7),(7.4,3.7),(7.49,5.0),(7.6,6.3),(7.71,5.5),(7.8,3.5),(7.91,3.2),(8.02,3.7),(8.11,4.5),(8.22,3.5),(8.31,2.7),(8.37,0.1),(8.48,0.0),(8.8,0.05),(9.15,0.1),(9.46,0.0),(9.77,0.1),(9.95,0.0),
           (10.02,3.5),(10.13,3.5),(10.28,2.7),(10.44,2.2),(10.6,2.5),(10.75,2.3),(10.86,3.7),(10.96,2.7),(11.07,2.2),(11.22,2.1),(11.3,2.0),(11.43,3.4),(11.54,4.5),(11.62,4.2),(11.7,5.1),(11.77,5.0),(11.85,4.5),(11.93,6.3),(12.02,8.1),(12.12,5.7),(12.21,6.8),(12.29,7.1),(12.37,6.5),(12.46,7.0),(12.56,2.7),(12.64,4.2),(12.72,6.0),(12.81,6.3),(12.9,5.0),
           (13.0,5.5),(13.09,6.8),(13.19,5.2),(13.28,5.5),(13.37,4.2),(13.47,2.7),(13.56,5.0),(13.66,6.0),(13.75,4.7),(13.85,4.0),(13.94,5.7),(14.03,6.0),(14.13,7.0),(14.22,6.3),(14.32,5.5),(14.41,5.7),(14.51,5.5),(14.6,6.0),(14.69,6.3),(14.79,6.0),(14.87,5.5),(14.93,4.5),(15.05,nan),
           (15.18,4.0),(15.26,3.7),(15.34,3.9),(15.38,2.2),(15.46,1.5),(15.54,2.1),(15.64,1.8),(15.73,1.7),(15.82,2.0),(15.92,1.7),(16.01,2.2),(16.11,3.4),(16.2,3.5),(16.29,3.0),(16.39,2.2),(16.48,3.5),(16.58,2.7),(16.67,2.0),(16.75,1.0),(16.83,2.0),(16.92,2.7),(17.0,1.7),(17.08,2.7),(17.16,1.5),(17.22,3.5),(17.3,nan),
           (17.38,2.1),(17.46,2.7),(17.55,2.2),(17.65,2.0),(17.74,2.1),(17.83,1.8),(17.93,2.0),(18.02,1.7),(18.12,1.5),(18.21,1.2),(18.3,0.7),(18.4,0.5),(18.49,0.8),(18.59,0.5),(18.68,0.7),(18.77,0.6),(18.87,0.8),(18.96,0.8),(19.06,1.0),(19.15,1.1),(19.25,1.0),(19.34,1.1),(19.43,1.0),(19.53,0.8),(19.62,0.7),(19.72,0.5),(19.81,0.2),(19.9,0.5),(20.0,0.3)]

series_names = ['GOUNDRY', 'A. coluzzii']

# plotting ====================================================================
plt.rcParams['font.family'] = ['Liberation Sans', 'DejaVu Sans']
RED = '#D0282C'
W, H = 1282, 663

fig = plt.figure(figsize=(W / 100, H / 100), dpi=100)


def add_box(left, top, right, bottom):
    # panel rectangle given in pixels
    return fig.add_axes([left / W, 1 - bottom / H, (right - left) / W, (bottom - top) / H])


def draw_panel(ax, red, black, name, xlim, ylim, xticks, yticks=None, ylabels=None, name_off=(7, -35)):
    rx, ry = np.array(red, dtype=float).T
    bx, by = np.array(black, dtype=float).T
    ax.plot(rx, ry * 1e-3, color=RED, lw=1.3)
    ax.plot(bx, by * 1e-3, color='black', lw=1.5)
    ax.set_xlim(xlim)
    ax.set_ylim(ylim)
    ax.set_xticks(xticks)
    ax.tick_params(axis='both', direction='out', length=5.4, width=0.8, labelsize=14,
                   top=False, right=False)
    ax.tick_params(axis='x', pad=3.5)
    ax.tick_params(axis='y', pad=4)
    if yticks is None:
        ax.set_yticks([])
    else:
        ax.set_yticks(yticks)
        ax.set_yticklabels(ylabels, rotation=90, va='center')
        ax.set_ylabel('π', family='Liberation Serif', fontsize=20, labelpad=0)
        ax.yaxis.set_label_coords(-49 / 574, 0.5)
        ax.yaxis.label.set_va('center')
    for sp in ax.spines.values():
        sp.set_linewidth(1.0)
    ax.annotate(name, xy=(0, 1), xycoords='axes fraction', xytext=name_off,
                textcoords='offset pixels', fontsize=17, fontweight='bold', va='baseline')


ax2R = add_box(68, 7, 642, 177)
draw_panel(ax2R, red_2R, black_2R, '2R', (-2.36, 61.36), (-0.00064, 0.01667),
           range(0, 61, 10), [0, 0.005, 0.010, 0.015], ['0.000', '', '0.010', ''])

ax2L = add_box(648, 7, 1281, 177)
draw_panel(ax2L, red_2L, black_2L, '2L', (-2.0, 51.3), (-0.00064, 0.01667),
           range(0, 51, 10), name_off=(9, -36))

ax3R = add_box(68, 213, 642, 383)
draw_panel(ax3R, red_3R, black_3R, '3R', (-2.16, 54.2), (-0.00054, 0.01768),
           range(0, 51, 10), [0, 0.005, 0.010, 0.015], ['0.000', '', '0.010', ''])

ax3L = add_box(648, 213, 1281, 383)
draw_panel(ax3L, red_3L, black_3L, '3L', (-1.72, 43.7), (-0.00054, 0.01768),
           range(0, 41, 10), name_off=(9, -35))
ax3L.set_xlabel('Position (MB)', fontsize=14.5, fontweight='bold')
ax3L.xaxis.set_label_coords(0.5, -52 / 170)
ax3L.xaxis.label.set_va('center')

axX = add_box(68, 427, 642, 599)
draw_panel(axX, red_X, black_X, 'X', (-1.0, 26.0), (-0.00045, 0.01253),
           range(0, 26, 5), [0, 0.002, 0.004, 0.006, 0.008, 0.010, 0.012],
           ['0.000', '', '', '0.006', '', '', '0.012'], name_off=(13, -36))
axX.set_xlabel('Position (MB)', fontsize=14.5, fontweight='bold')
axX.xaxis.set_label_coords(0.5, -51 / 172)
axX.xaxis.label.set_va('center')

handles = [Line2D([0], [0], color='black', lw=2.2), Line2D([0], [0], color=RED, lw=1.6)]
leg = axX.legend(handles, series_names, loc='upper right', borderaxespad=0, fontsize=14,
                 fancybox=False, framealpha=1, edgecolor='black', handlelength=1.85,
                 handletextpad=0.9, labelspacing=0.22, borderpad=0.78)
leg.get_frame().set_linewidth(1.0)
leg.get_texts()[1].set_fontstyle('italic')

fig.savefig('out.png', dpi=100)
